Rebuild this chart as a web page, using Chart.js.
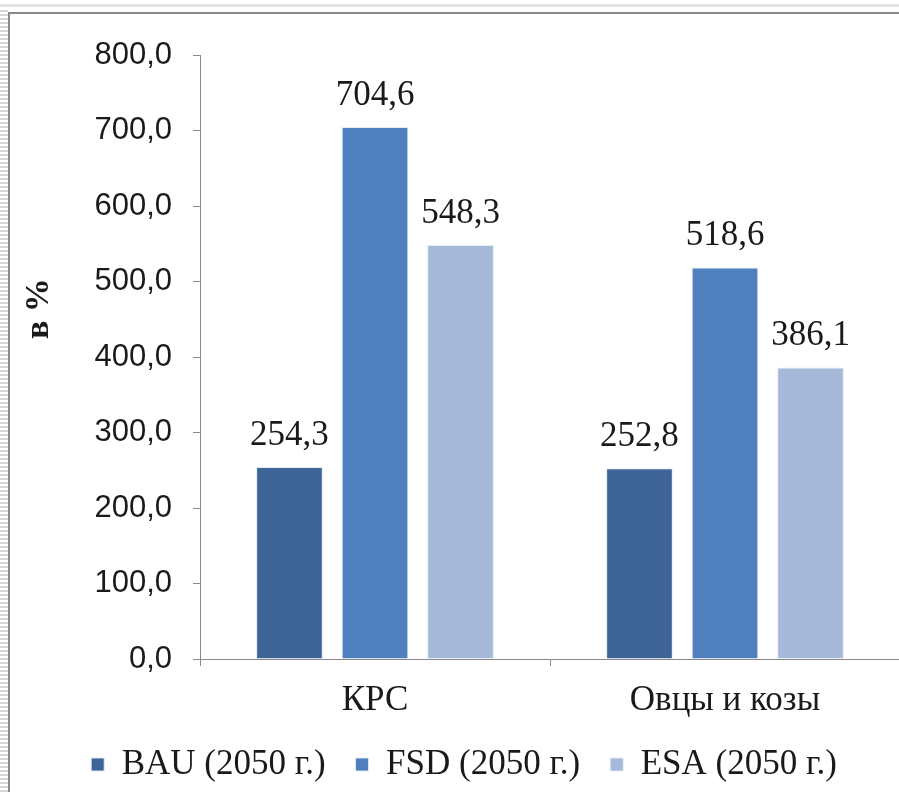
<!DOCTYPE html>
<html>
<head>
<meta charset="utf-8">
<script src="https://cdn.jsdelivr.net/npm/chart.js@4"></script>
<style>
  html, body { margin: 0; padding: 0; background: #fff; overflow: hidden; }
  #page { position: relative; width: 899px; height: 792px; overflow: hidden; }
  #topline { position: absolute; left: 0; top: 4px; width: 899px; height: 3px; background: #e2e2e2; }
  #ruler { position: absolute; left: 0; top: 8px; width: 8px; height: 784px;
    background: repeating-linear-gradient(to bottom, #ffffff 0px, #ffffff 2px, #d6d6d6 2px, #d6d6d6 4px); }
  #frame { position: absolute; left: 8px; top: 12px; width: 1000px; height: 900px;
    border-left: 2px solid #8a8a8a; border-top: 2px solid #8a8a8a; }
  #wrap { position: absolute; left: 0; top: 0; width: 900px; height: 792px; }
</style>
</head>
<body>
<div id="page">
  <div id="topline"></div>
  <div id="ruler"></div>
  <div id="frame"></div>
  <div id="wrap"><canvas id="myBarChart" width="900" height="792"></canvas></div>
</div>
<script>
// данные диаграммы
const categorias = ['КРС', 'Овцы и козы'];
const seriesNames = ['BAU (2050 г.)', 'FSD (2050 г.)', 'ESA (2050 г.)'];
const bau = [254.3, 252.8];
const fsd = [704.6, 518.6];
const esa = [548.3, 386.1];
const colores = ['#3F6598', '#4F80BD', '#A7B9D9'];
const yTitulo = 'в %';

const formatear = v => v.toFixed(1).replace('.', ',');

// подписи значений над столбцами
const etiquetas = {
  id: 'etiquetas',
  afterDatasetsDraw(chart) {
    const ctx = chart.ctx;
    ctx.save();
    ctx.font = '35px "Liberation Serif", serif';
    ctx.fillStyle = '#1a1a1a';
    ctx.textAlign = 'center';
    ctx.textBaseline = 'alphabetic';
    chart.data.datasets.forEach((ds, i) => {
      chart.getDatasetMeta(i).data.forEach((bar, j) => {
        ctx.fillText(formatear(ds.data[j]), bar.x, bar.y - 22);
      });
    });
    ctx.restore();
  }
};

// заголовок оси Y
const tituloY = {
  id: 'tituloY',
  afterDraw(chart) {
    const ctx = chart.ctx;
    const area = chart.chartArea;
    ctx.save();
    ctx.translate(39, area.top + (area.bottom - area.top) * 0.42);
    ctx.rotate(-Math.PI / 2);
    ctx.font = 'bold 34px "Liberation Serif", serif';
    ctx.fillStyle = '#1a1a1a';
    ctx.textAlign = 'center';
    ctx.textBaseline = 'middle';
    ctx.fillText(yTitulo, 0, 0);
    ctx.restore();
  }
};

const ctx = document.getElementById('myBarChart').getContext('2d');
new Chart(ctx, {
  type: 'bar',
  data: {
    labels: categorias,
    datasets: [bau, fsd, esa].map((d, i) => ({
      label: seriesNames[i],
      data: d,
      backgroundColor: colores[i],
      borderColor: 'rgba(225,235,245,0.9)',
      borderWidth: 1,
      categoryPercentage: 0.733,
      barPercentage: 0.78,
    })),
  },
  options: {
    responsive: false,
    animation: false,
    layout: { padding: { left: 28, right: 0, top: 55, bottom: 0 } },
    plugins: {
      tooltip: { enabled: false },
      legend: {
        position: 'bottom',
        labels: {
          font: { family: '"Liberation Serif", serif', size: 35 },
          color: '#1a1a1a',
          boxWidth: 13,
          boxHeight: 13,
          padding: 30,
        },
      },
    },
    scales: {
      x: {
        afterFit(s) { s.height = 58; },
        border: { color: '#888', width: 1 },
        grid: { drawOnChartArea: false, tickLength: 7, color: '#888' },
        ticks: {
          font: { family: '"Liberation Serif", serif', size: 35 },
          color: '#1a1a1a',
          padding: 14,
        },
      },
      y: {
        min: 0,
        max: 800,
        afterFit(s) { s.width = 172; },
        border: { color: '#888', width: 1 },
        grid: { drawOnChartArea: false, tickLength: 7, color: '#888' },
        ticks: {
          stepSize: 100,
          font: { family: '"Liberation Sans", sans-serif', size: 31 },
          color: '#1a1a1a',
          padding: 21,
          callback: v => formatear(v),
        },
      },
    },
  },
  plugins: [etiquetas, tituloY],
});
</script>
</body>
</html>
